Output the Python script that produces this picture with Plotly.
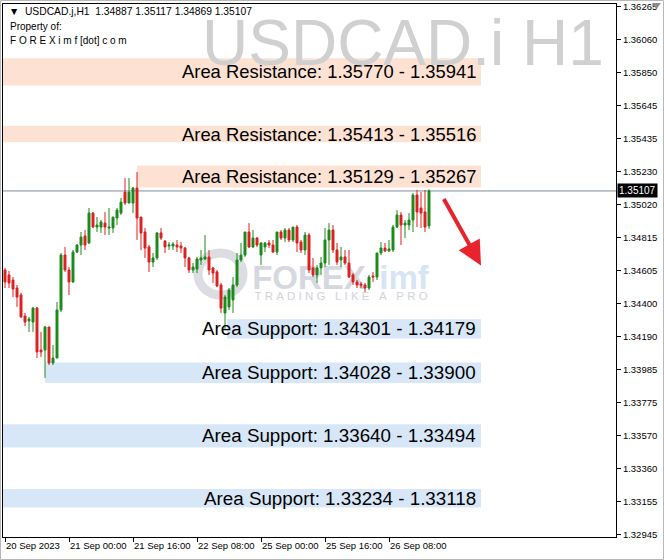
import plotly.graph_objects as go

# ---------------- data ----------------
opens = [1.34610,1.34579,1.34547,1.34497,1.34453,1.34321,1.34290,1.34283,1.34371,1.34107,
 1.34107,1.34252,1.34026,1.34057,1.34359,1.34704,1.34610,1.34535,1.34723,1.34767,
 1.34824,1.34780,1.34968,1.34880,1.34880,1.34905,1.34874,1.34874,1.34937,1.34968,
 1.35100,1.35031,1.35031,1.35125,1.34943,1.34849,1.34755,1.34660,1.34686,1.34843,
 1.34792,1.34761,1.34761,1.34767,1.34761,1.34748,1.34686,1.34610,1.34616,1.34673,
 1.34679,1.34692,1.34623,1.34598,1.34516,1.34340,1.34378,1.34422,1.34516,1.34673,
 1.34704,1.34849,1.34755,1.34811,1.34704,1.34755,1.34780,1.34767,1.34723,1.34849,
 1.34811,1.34861,1.34799,1.34880,1.34786,1.34736,1.34830,1.34623,1.34579,1.34623,
 1.34654,1.34799,1.34861,1.34736,1.34673,1.34692,1.34654,1.34579,1.34535,1.34522,
 1.34516,1.34497,1.34572,1.34566,1.34717,1.34748,1.34730,1.34736,1.34880,1.34956,
 1.34893,1.34893,1.34924,1.35081,1.35000,1.34975,1.34887]

highs = [1.34623,1.34604,1.34566,1.34516,1.34466,1.34340,1.34315,1.34378,1.34378,1.34221,
 1.34258,1.34252,1.34139,1.34409,1.34717,1.34755,1.34629,1.34736,1.34773,1.34849,
 1.34861,1.35000,1.34975,1.34943,1.34924,1.34975,1.35000,1.34943,1.35000,1.35063,
 1.35188,1.35188,1.35132,1.35226,1.34943,1.34874,1.34767,1.34717,1.34849,1.34874,
 1.34799,1.34786,1.34786,1.34799,1.34786,1.34755,1.34692,1.34654,1.34692,1.34736,
 1.34830,1.34736,1.34629,1.34610,1.34529,1.34453,1.34497,1.34566,1.34717,1.34780,
 1.34849,1.34905,1.34861,1.34817,1.34786,1.34786,1.34799,1.34799,1.34849,1.34861,
 1.34874,1.34874,1.34880,1.34893,1.34799,1.34849,1.34843,1.34686,1.34642,1.34692,
 1.34874,1.34905,1.34893,1.34780,1.34755,1.34736,1.34736,1.34591,1.34547,1.34535,
 1.34529,1.34579,1.34598,1.34717,1.34786,1.34780,1.34799,1.34893,1.34987,1.34975,
 1.34924,1.34968,1.35094,1.35113,1.35100,1.35113,1.35117]

lows = [1.34497,1.34497,1.34440,1.34378,1.34309,1.34258,1.34221,1.34221,1.34057,1.34064,
 1.33932,1.34013,1.34013,1.34057,1.34346,1.34598,1.34453,1.34529,1.34717,1.34704,
 1.34736,1.34773,1.34874,1.34849,1.34843,1.34830,1.34830,1.34843,1.34893,1.34956,
 1.35019,1.35031,1.34968,1.34799,1.34736,1.34686,1.34598,1.34629,1.34673,1.34799,
 1.34717,1.34736,1.34736,1.34723,1.34717,1.34629,1.34591,1.34591,1.34591,1.34642,
 1.34673,1.34579,1.34529,1.34503,1.34340,1.34240,1.34359,1.34340,1.34503,1.34660,
 1.34692,1.34748,1.34748,1.34755,1.34642,1.34723,1.34748,1.34717,1.34704,1.34799,
 1.34786,1.34786,1.34786,1.34723,1.34717,1.34704,1.34591,1.34566,1.34529,1.34579,
 1.34629,1.34642,1.34717,1.34642,1.34629,1.34642,1.34560,1.34516,1.34497,1.34497,
 1.34472,1.34484,1.34535,1.34547,1.34704,1.34723,1.34723,1.34723,1.34874,1.34767,
 1.34811,1.34861,1.34849,1.34880,1.34874,1.34849,1.34869]

closes = [1.34535,1.34529,1.34491,1.34440,1.34315,1.34283,1.34302,1.34371,1.34095,1.34095,
 1.34252,1.34026,1.34057,1.34359,1.34704,1.34610,1.34535,1.34723,1.34767,1.34817,
 1.34767,1.34968,1.34880,1.34893,1.34912,1.34880,1.34880,1.34943,1.34987,1.35037,
 1.35031,1.35100,1.35125,1.34937,1.34843,1.34748,1.34660,1.34686,1.34843,1.34811,
 1.34755,1.34767,1.34773,1.34755,1.34748,1.34686,1.34610,1.34629,1.34679,1.34686,
 1.34692,1.34610,1.34591,1.34510,1.34371,1.34440,1.34484,1.34516,1.34673,1.34704,
 1.34849,1.34755,1.34811,1.34767,1.34780,1.34780,1.34767,1.34723,1.34849,1.34811,
 1.34861,1.34799,1.34880,1.34780,1.34736,1.34830,1.34610,1.34579,1.34623,1.34654,
 1.34799,1.34861,1.34736,1.34660,1.34692,1.34654,1.34566,1.34535,1.34516,1.34516,
 1.34497,1.34566,1.34566,1.34717,1.34748,1.34730,1.34742,1.34880,1.34956,1.34893,
 1.34905,1.34924,1.35081,1.34975,1.34968,1.34880,1.35107]

time_tick_index = [0, 16, 32, 48, 64, 80, 96]
time_tick_labels = ["20 Sep 2023", "21 Sep 00:00", "21 Sep 16:00", "22 Sep 08:00",
                    "25 Sep 00:00", "25 Sep 16:00", "26 Sep 08:00"]

price_tick_labels = ["1.36265", "1.36060", "1.35850", "1.35645", "1.35435", "1.35230",
                     "1.35020", "1.34815", "1.34605", "1.34400", "1.34190", "1.33985",
                     "1.33775", "1.33570", "1.33360", "1.33155", "1.32945"]

resistance_low = [1.35770, 1.35413, 1.35129]
resistance_high = [1.35941, 1.35516, 1.35267]
support_high = [1.34301, 1.34028, 1.33640, 1.33234]
support_low = [1.34179, 1.33900, 1.33494, 1.33118]

last_price = 1.35107
header_ohlc = ["1.34887", "1.35117", "1.34869", "1.35107"]

# ---------------- layout geometry ----------------
W, H = 664, 560
ML, MR, MT, MB = 3, 48, 4, 23
PW, PH = W - ML - MR, H - MT - MB
X_RANGE = [-0.5, 152.75]
Y_RANGE = [1.32932, 1.36282]

def px(x):
    return (x - ML) / PW

def py(y):
    return 1 - (y - MT) / PH

FONT = "Liberation Sans, Arial, DejaVu Sans, sans-serif"
GREEN = "#1a8a1a"
RED = "#de1f1f"
RES_FILL = "#fde2d3"
SUP_FILL = "#d8e7f7"

n = len(opens)
fig = go.Figure()
fig.add_trace(go.Candlestick(
    x=list(range(n)), open=opens, high=highs, low=lows, close=closes,
    increasing=dict(line=dict(color=GREEN, width=1), fillcolor=GREEN),
    decreasing=dict(line=dict(color=RED, width=1), fillcolor=RED),
    whiskerwidth=0, hoverinfo="skip", showlegend=False,
))

shapes = []
annotations = []

# watermark logo (below candles)
shapes.append(dict(type="circle", xref="paper", yref="paper", layer="below",
                   x0=px(198), x1=px(243), y0=py(295), y1=py(253),
                   line=dict(color="#dcdde2", width=9), fillcolor="rgba(0,0,0,0)"))
def label_rect(cx, cy, text, size, color, bold=False):
    return dict(type="rect", xref="paper", yref="paper", layer="below",
                x0=px(cx - 5), x1=px(cx + 5), y0=py(cy + 5), y1=py(cy - 5),
                line=dict(width=0), fillcolor="rgba(0,0,0,0)",
                label=dict(text=("<b>%s</b>" % text) if bold else text,
                           textposition="middle center",
                           font=dict(family=FONT, size=size, color=color)))
shapes.append(label_rect(309, 274, "FOREX", 33, "#d6d8df", bold=True))
shapes.append(label_rect(404, 274, "imf", 33, "#d6e5f4", bold=True))
nb = "\u00a0"
tag = (nb * 3).join(nb.join(list(w)) for w in ["TRADING", "LIKE", "A", "PRO"])
shapes.append(label_rect(341, 294, tag, 11.5, "#d3d4d9"))

# zones
res_start = [-0.5, -0.5, 33]
sup_start = [55.5, 10, -0.5, -0.5]
zone_end = 119
label_x = 118.25
for lo, hi, x0 in zip(resistance_low, resistance_high, res_start):
    shapes.append(dict(type="rect", xref="x", yref="y", layer="below",
                       x0=x0, x1=zone_end, y0=lo, y1=hi,
                       line=dict(width=0), fillcolor=RES_FILL))
    annotations.append(dict(xref="x", yref="y", x=label_x, y=(lo + hi) / 2,
                            xanchor="right", yanchor="middle", showarrow=False,
                            text="Area Resistance: %.5f - %.5f" % (lo, hi),
                            font=dict(family=FONT, size=18.4, color="#000000")))
for hi, lo, x0 in zip(support_high, support_low, sup_start):
    shapes.append(dict(type="rect", xref="x", yref="y", layer="below",
                       x0=x0, x1=zone_end, y0=lo, y1=hi,
                       line=dict(width=0), fillcolor=SUP_FILL))
    annotations.append(dict(xref="x", yref="y", x=label_x, y=(lo + hi) / 2,
                            xanchor="right", yanchor="middle", showarrow=False,
                            text="Area Support: %.5f - %.5f" % (hi, lo),
                            font=dict(family=FONT, size=18.8, color="#000000")))

# current price line
shapes.append(dict(type="line", xref="paper", yref="y", x0=0, x1=1,
                   y0=last_price, y1=last_price, layer="below",
                   line=dict(color="#7f8c98", width=1)))

# outer frame and small chart-shift triangle
shapes.append(dict(type="rect", xref="paper", yref="paper",
                   x0=px(0.5), x1=px(663.5), y0=py(559.5), y1=py(0.5),
                   line=dict(color="#b8b8b8", width=1)))
shapes.append(dict(type="path", xref="paper", yref="paper",
                   path="M %f %f L %f %f L %f %f Z" % (px(652), py(3), px(661), py(3), px(656.5), py(9)),
                   line=dict(width=0), fillcolor="#8c8c8c"))

# big symbol watermark
annotations.append(dict(xref="paper", yref="paper", x=px(606), y=py(5),
                        xanchor="right", yanchor="top", showarrow=False,
                        text="USDCAD.i H1",
                        font=dict(family=FONT, size=64, color="#d0d0d0")))

# header
annotations.append(dict(xref="paper", yref="paper", x=px(7), y=py(12),
                        xanchor="left", yanchor="middle", showarrow=False,
                        text="\u25bc" + nb * 2 + "USDCAD.j,H1" + nb * 2 + " ".join(header_ohlc),
                        font=dict(family=FONT, size=10.3, color="#000000")))
annotations.append(dict(xref="paper", yref="paper", x=px(8), y=py(26),
                        xanchor="left", yanchor="middle", showarrow=False,
                        text="Property of:",
                        font=dict(family=FONT, size=10, color="#000000")))
annotations.append(dict(xref="paper", yref="paper", x=px(8), y=py(40),
                        xanchor="left", yanchor="middle", showarrow=False,
                        text="F O R E X i m f [dot] c o m",
                        font=dict(family=FONT, size=10, color="#000000")))

# current price tag on the axis
annotations.append(dict(xref="paper", yref="y", x=1, y=last_price,
                        xanchor="left", yanchor="middle", xshift=1, showarrow=False,
                        text=str(last_price), bgcolor="#000000", borderpad=1,
                        font=dict(family=FONT, size=10, color="#ffffff")))

# red arrow
annotations.append(dict(xref="x", yref="y", axref="x", ayref="y",
                        x=119, y=1.34639, ax=109.5, ay=1.35066,
                        showarrow=True, text="", arrowcolor="#e8232b",
                        arrowwidth=4, arrowhead=2, arrowsize=1.2))

fig.update_layout(
    width=W, height=H, margin=dict(l=ML, r=MR, t=MT, b=MB, autoexpand=False),
    paper_bgcolor="#ffffff", plot_bgcolor="#ffffff",
    showlegend=False, shapes=shapes, annotations=annotations,
    xaxis=dict(range=X_RANGE, tickvals=time_tick_index, ticktext=time_tick_labels,
               ticks="outside", ticklen=4, tickcolor="#000000", tickangle=0,
               showgrid=False, zeroline=False, showline=True, mirror=True,
               linecolor="#000000", linewidth=1, ticklabelposition="outside right",
               tickfont=dict(family=FONT, size=9.5, color="#000000"), automargin=False,
               rangeslider=dict(visible=False), fixedrange=True),
    yaxis=dict(range=Y_RANGE, side="right",
               tickvals=[float(t) for t in price_tick_labels], ticktext=price_tick_labels,
               ticks="outside", ticklen=4, tickcolor="#000000",
               showgrid=False, zeroline=False, showline=True, mirror=True,
               linecolor="#000000", linewidth=1, automargin=False,
               tickfont=dict(family=FONT, size=9.5, color="#000000"), fixedrange=True),
)

fig.write_html("out.html", config={"displayModeBar": False},
               post_script="document.body.style.margin='0';")
